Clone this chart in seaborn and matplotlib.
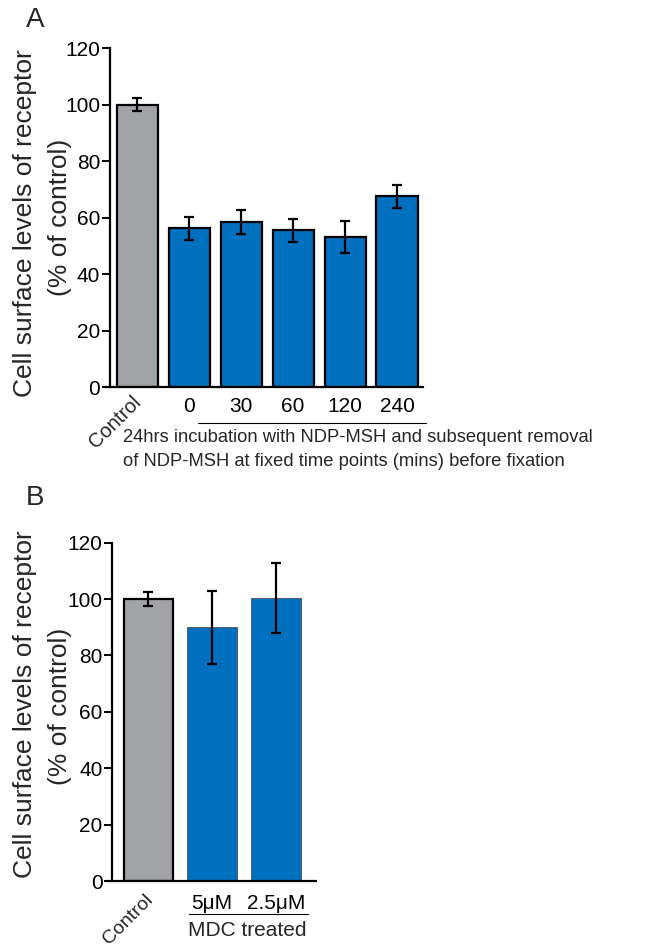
import matplotlib
matplotlib.use("Agg")
import matplotlib.pyplot as plt
import seaborn as sns
import pandas as pd

sns.set_theme(style="white")
plt.rcParams["font.family"] = ["Liberation Sans", "DejaVu Sans"]

# Panel A: receptor surface levels after NDP-MSH removal
a_groups = ["Control", "0", "30", "60", "120", "240"]
a_values = [100, 56.2, 58.5, 55.4, 53.1, 67.5]
a_errors = [2.4, 4.1, 4.3, 4.2, 5.6, 4.0]

# Panel B: MDC treatment
b_groups = ["Control", "5\u03bcM", "2.5\u03bcM"]
b_values = [100, 90, 100.3]
b_errors = [2.6, 13.0, 12.4]

yticks = [0, 20, 40, 60, 80, 100, 120]

GRAY = "#a2a3a7"
BLUE = "#0070bf"

fig = plt.figure(figsize=(6.55, 9.47), dpi=100)
W, H = 655, 947


def px_axes(x0, x1, y_top, y_bot):
    return fig.add_axes([x0 / W, 1 - y_bot / H, (x1 - x0) / W, (y_bot - y_top) / H])


def style_axes(ax, xlim, spine_x, labels, xpad):
    ax.set_ylim(0, 120)
    ax.set_xlim(*xlim)
    ax.set_yticks(yticks)
    ax.set_yticklabels([str(t) for t in yticks])
    ax.set_xticks(range(len(labels)))
    ax.set_xticklabels([""] + labels[1:])
    for s in ("top", "right"):
        ax.spines[s].set_visible(False)
    ax.spines["left"].set_position(("data", spine_x))
    for s in ("left", "bottom"):
        ax.spines[s].set_color("black")
        ax.spines[s].set_linewidth(1.6)
    ax.tick_params(axis="y", left=True, length=6, width=1.4, pad=1,
                   labelsize=15, labelcolor="black", color="black")
    ax.tick_params(axis="x", bottom=False, pad=xpad, labelsize=15, labelcolor="black")
    ax.set_xlabel("")
    ax.set_ylabel("")
    ax.patch.set_alpha(0)


def ylabel(yc1, yc2):
    fig.text(25 / W, 1 - yc1 / H, "Cell surface levels of receptor", rotation=90,
             fontsize=19, ha="center", va="center")
    fig.text(60 / W, 1 - yc2 / H, "(% of control)", rotation=90,
             fontsize=19, ha="center", va="center")


# ---------- Panel A ----------
axA = px_axes(106, 423, 48, 387)
dfA = pd.DataFrame({"group": a_groups, "value": a_values})
sns.barplot(data=dfA, x="group", y="value", order=a_groups, hue="group",
            palette=[GRAY] + [BLUE] * 5, saturation=1, legend=False, width=0.79,
            edgecolor="black", linewidth=1.6, errorbar=None, ax=axA)
axA.errorbar(range(len(a_groups)), a_values, yerr=a_errors, fmt="none",
             ecolor="black", elinewidth=1.6, capsize=3.3, capthick=1.6)
style_axes(axA, (-0.6, 5.5), -0.523, a_groups, 1.5)
axA.text(-0.12, -2, "Control", rotation=45, ha="right", va="top", fontsize=14.5,
         rotation_mode="anchor", transform=axA.transData)

fig.add_artist(plt.Line2D([198 / W, 426 / W], [1 - 423 / H, 1 - 423 / H],
                          color="black", lw=0.8))
fig.text(123 / W, 1 - 437 / H, "24hrs incubation with NDP-MSH and subsequent removal",
         fontsize=13.2, va="center", ha="left")
fig.text(123 / W, 1 - 462 / H, "of NDP-MSH at fixed time points (mins) before fixation",
         fontsize=13.2, va="center", ha="left")
ylabel(223, 217)
fig.text(35 / W, 1 - 20 / H, "A", fontsize=20, ha="center", va="center")

# ---------- Panel B ----------
axB = px_axes(107, 316, 542.7, 881)
dfB = pd.DataFrame({"group": b_groups, "value": b_values})
sns.barplot(data=dfB, x="group", y="value", order=b_groups, hue="group",
            palette=[GRAY, BLUE, BLUE], saturation=1, legend=False, width=0.78,
            edgecolor="black", linewidth=1.6, errorbar=None, ax=axB)
for patch in axB.patches[1:]:
    patch.set_edgecolor("#505050")
    patch.set_linewidth(0.6)
axB.errorbar(range(len(b_groups)), b_values, yerr=b_errors, fmt="none",
             ecolor="black", elinewidth=1.6, capsize=3.3, capthick=1.6)
style_axes(axB, (-0.65, 2.63), -0.57, b_groups, 3)
axB.text(-0.06, -3.8, "Control", rotation=45, ha="right", va="top", fontsize=14,
         rotation_mode="anchor", transform=axB.transData)

fig.add_artist(plt.Line2D([189 / W, 308 / W], [1 - 914 / H, 1 - 914 / H],
                          color="black", lw=0.8))
fig.text(247 / W, 1 - 930 / H, "MDC treated", fontsize=15, ha="center", va="center")
ylabel(704, 706)
fig.text(35 / W, 1 - 498 / H, "B", fontsize=20, ha="center", va="center")

fig.savefig("out.png", dpi=100)
